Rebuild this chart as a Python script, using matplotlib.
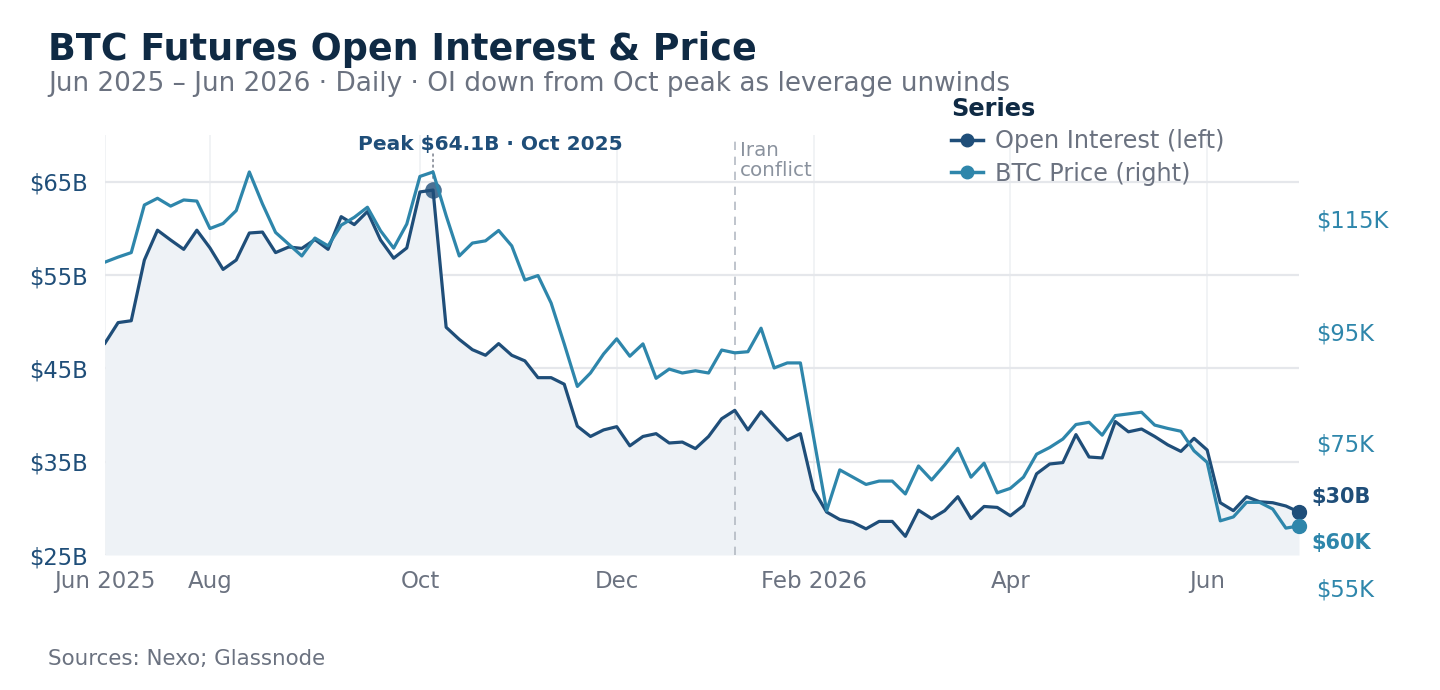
import numpy as np
import matplotlib
matplotlib.use("Agg")
import matplotlib.pyplot as plt
from matplotlib.lines import Line2D
from matplotlib.transforms import ScaledTranslation

# ---------------- data ----------------
oi_values = [47.7, 49.9, 50.1, 56.6, 59.8, 58.75, 57.75, 59.8, 57.9, 55.6,
             56.6, 59.5, 59.6, 57.4, 58.0, 57.85, 58.8, 57.75, 61.25, 60.4,
             61.8, 58.75, 56.8, 57.9, 63.9, 64.1, 49.4, 48.1, 47.0, 46.4,
             47.65, 46.4, 45.8, 44.0, 44.0, 43.3, 38.8, 37.7, 38.4, 38.75,
             36.7, 37.7, 38.0, 37.0, 37.1, 36.4, 37.7, 39.6, 40.5, 38.4,
             40.35, 38.8, 37.3, 38.0, 32.0, 29.6, 28.8, 28.5, 27.8, 28.6,
             28.6, 27.0, 29.8, 28.9, 29.75, 31.25, 28.9, 30.2, 30.1, 29.2,
             30.3, 33.7, 34.75, 34.9, 37.9, 35.5, 35.4, 39.3, 38.2, 38.5,
             37.7, 36.8, 36.1, 37.5, 36.25, 30.6, 29.75, 31.25, 30.7, 30.6,
             30.25, 29.6]

btc_values = [107.3, 108.2, 109.0, 117.5, 118.7, 117.3, 118.4, 118.2, 113.3, 114.2,
              116.5, 123.4, 117.7, 112.6, 110.5, 108.4, 111.6, 110.2, 113.9, 115.3,
              117.1, 112.9, 109.8, 114.1, 122.6, 123.4, 115.6, 108.4, 110.7, 111.1,
              112.95, 110.2, 104.1, 104.9, 100.0, 92.7, 85.1, 87.5, 90.9, 93.6,
              90.5, 92.7, 86.55, 88.2, 87.5, 87.9, 87.5, 91.6, 91.1, 91.3,
              95.5, 88.4, 89.3, 89.3, 76.1, 62.9, 70.2, 68.9, 67.6, 68.2,
              68.2, 65.9, 70.9, 68.4, 71.1, 74.05, 68.9, 71.4, 66.1, 66.9,
              68.9, 73.0, 74.2, 75.7, 78.3, 78.7, 76.4, 79.9, 80.2, 80.5,
              78.2, 77.6, 77.1, 73.6, 71.55, 61.1, 61.8, 64.4, 64.4, 63.2,
              59.8, 60.2]

x_tick_index = [0, 8, 24, 39, 54, 69, 84]
x_tick_labels = ["Jun 2025", "Aug", "Oct", "Dec", "Feb 2026", "Apr", "Jun"]

left_ticks = [25, 35, 45, 55, 65]
left_tick_labels = ["$25B", "$35B", "$45B", "$55B", "$65B"]
right_ticks = [55, 75, 95, 115]
right_tick_labels = ["$55K", "$75K", "$95K", "$115K"]

event_index = 48
event_label = "Iran\nconflict"
peak_month_label = "Oct 2025"

series_names = ["Open Interest (left)", "BTC Price (right)"]

# ---------------- style ----------------
C_OI = "#1f4e79"
C_BTC = "#2e86ab"
C_TITLE = "#0f2a44"
C_GRAY = "#6b7280"
C_GRID = "#e5e7eb"

plt.rcParams["font.family"] = ["DejaVu Sans"]

oi = np.array(oi_values)
btc = np.array(btc_values)
x = np.arange(len(oi))

fig = plt.figure(figsize=(14.4, 6.9), dpi=100)
ax = fig.add_axes([105/1440, 1 - 555/690, (1299 - 105)/1440, (555 - 135)/690])
ax2 = ax.twinx()

ax.set_xlim(0, len(oi) - 1)
ax.set_ylim(25, 70)
ax2.set_ylim(55, 130)

# grid
ax.set_axisbelow(True)
ax.yaxis.grid(True, color=C_GRID, lw=1.6)
ax.xaxis.grid(True, color="#eef0f3", lw=1.1)
for a in (ax, ax2):
    for s in a.spines.values():
        s.set_visible(False)

# fill + lines
ax.fill_between(x, oi, 25, color="#eef2f6", lw=0, zorder=1)
ax.plot(x, oi, color=C_OI, lw=2.3, zorder=3)
ax2.plot(x, btc, color=C_BTC, lw=2.3, zorder=3)

# event line
ax.axvline(event_index, color="#b4bac3", lw=1.2, ls=(0, (5, 4)), zorder=2)
ax.annotate(event_label, xy=(event_index, 70), xytext=(4, -4),
            textcoords="offset points", ha="left", va="top",
            fontsize=14.3, color="#8a929e", linespacing=1.1)

# peak
pk = int(np.argmax(oi))
ax.plot([pk], [oi[pk]], "o", ms=12, color=C_OI, alpha=0.8, zorder=5, mec="none")
ax.annotate("", xy=(pk, oi[pk]), xytext=(0, 26), textcoords="offset points",
            arrowprops=dict(arrowstyle="-", ls=(0, (1.5, 2.5)), color=C_GRAY, lw=1,
                            shrinkA=0, shrinkB=6))
ax.annotate(f"Peak ${oi[pk]:.1f}B · {peak_month_label}", xy=(pk, oi[pk]),
            xytext=(41, 33), textcoords="offset points", ha="center", va="center",
            fontsize=14.5, fontweight="bold", color=C_OI, annotation_clip=False)

# end markers & labels
ax.plot([x[-1]], [oi[-1]], "o", ms=10, color=C_OI, zorder=6, clip_on=False)
ax2.plot([x[-1]], [btc[-1]], "o", ms=10, color=C_BTC, zorder=6, clip_on=False)
ax.annotate(f"${oi[-1]:.0f}B", xy=(x[-1], oi[-1]), xytext=(9, 11),
            textcoords="offset points", ha="left", va="center",
            fontsize=15, fontweight="bold", color=C_OI, annotation_clip=False)
ax2.annotate(f"${btc[-1]:.0f}K", xy=(x[-1], btc[-1]), xytext=(9, -12),
             textcoords="offset points", ha="left", va="center",
             fontsize=15, fontweight="bold", color=C_BTC, annotation_clip=False)

# ticks
ax.set_xticks(x_tick_index)
ax.set_xticklabels(x_tick_labels)
ax.set_yticks(left_ticks)
ax.set_yticklabels(left_tick_labels)
ax2.set_yticks(right_ticks)
ax2.set_yticklabels(right_tick_labels)
ax.tick_params(axis="x", length=0, pad=11, labelsize=16.5, labelcolor=C_GRAY)
ax.tick_params(axis="y", length=0, pad=12, labelsize=16.3, labelcolor=C_OI)
ax2.tick_params(axis="y", length=0, pad=12, labelsize=16.3, labelcolor=C_BTC)
for lbl in ax2.get_yticklabels():
    if lbl.get_text() == "$55K":
        lbl.set_transform(lbl.get_transform() + ScaledTranslation(0, -0.32, fig.dpi_scale_trans))

# legend
handles = [Line2D([], [], color=C_OI, lw=2.5, marker="o", ms=9),
           Line2D([], [], color=C_BTC, lw=2.5, marker="o", ms=9)]
leg = fig.legend(handles, series_names, loc="upper left",
                 bbox_to_anchor=(951/1440, 1 - 97/690), frameon=False,
                 title="Series", alignment="left", fontsize=17.3,
                 title_fontproperties={"weight": "bold", "size": 17.3},
                 handlelength=1.35, handletextpad=0.5, labelspacing=0.35,
                 borderpad=0, borderaxespad=0)
leg.get_title().set_color(C_TITLE)
for t in leg.get_texts():
    t.set_color(C_GRAY)

# titles
fig.text(48/1440, 1 - 49/690, "BTC Futures Open Interest & Price", fontsize=26.3,
         fontweight="bold", color=C_TITLE, ha="left", va="center")
fig.text(48/1440, 1 - 84/690,
         "Jun 2025 – Jun 2026 · Daily · OI down from Oct peak as leverage unwinds",
         fontsize=18.9, color=C_GRAY, ha="left", va="center")
fig.text(48/1440, 1 - 659/690, "Sources: Nexo; Glassnode", fontsize=15.4,
         color=C_GRAY, ha="left", va="center")

fig.savefig("out.png", dpi=100, facecolor="white")
